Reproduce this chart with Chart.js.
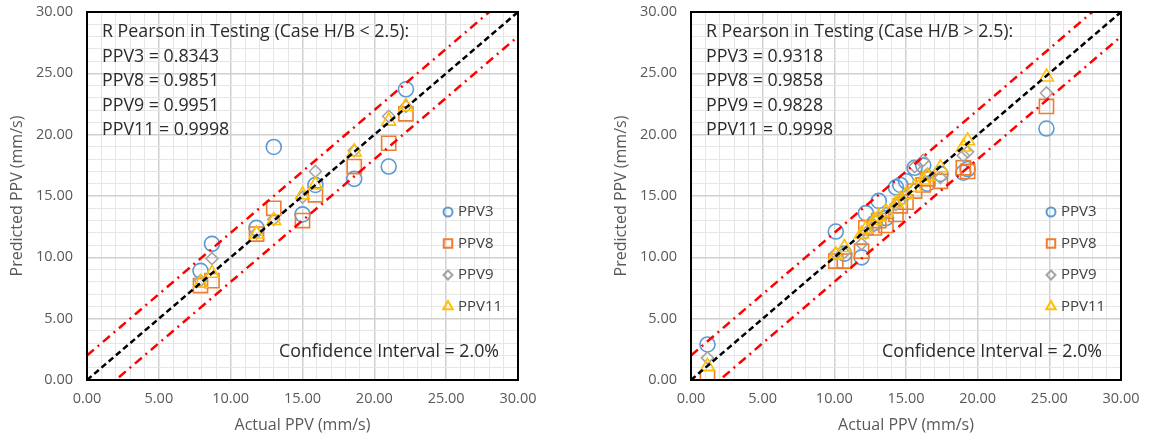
<!DOCTYPE html>
<html>
<head>
<meta charset="utf-8">
<title>PPV testing</title>
<script src="https://cdn.jsdelivr.net/npm/chart.js@4.4.0/dist/chart.umd.min.js"></script>
<style>
  body { margin: 0; background: #fff; width: 1157px; height: 445px; overflow: hidden; position: relative; }
  canvas { position: absolute; top: 0; }
</style>
</head>
<body>
<canvas id="chartLow" width="560" height="445" style="left:0"></canvas>
<canvas id="chartHigh" width="553" height="445" style="left:604px"></canvas>
<script>
const seriesNames = ["PPV3", "PPV8", "PPV9", "PPV11"];
const seriesColors = ["#5b9bd5", "#ed7d31", "#a5a5a5", "#ffc000"];
const confidence = 2.0;
const axisMin = 0;
const axisMax = 30;

// Case H/B < 2.5
const actualLow = [7.9, 8.7, 11.8, 13.0, 15.0, 15.9, 18.6, 21.0, 22.2];
const ppv3Low = [8.9, 11.1, 12.4, 19.0, 13.5, 15.9, 16.4, 17.4, 23.7];
const ppv8Low = [7.7, 8.1, 11.9, 14.0, 13.0, 15.1, 17.4, 19.3, 21.7];
const ppv9Low = [8.1, 9.9, 12.0, 13.1, 14.9, 17.0, 18.7, 21.5, 22.3];
const ppv11Low = [7.9, 8.7, 11.9, 13.0, 15.1, 15.9, 18.6, 21.1, 22.3];
const pearsonLow = [0.8343, 0.9851, 0.9951, 0.9998];

// Case H/B > 2.5
const actualHigh = [1.15, 10.1, 10.7, 11.9, 12.2, 12.8, 13.1, 13.6, 14.3, 14.6, 15.0, 15.6, 16.2, 16.5, 17.4, 19.0, 19.3, 24.8];
const ppv3High = [2.9, 12.1, 10.3, 10.0, 13.6, 12.8, 14.6, 13.2, 15.7, 15.9, 16.2, 17.3, 17.5, 16.0, 16.8, 16.9, 17.2, 20.5];
const ppv8High = [0.2, 9.7, 9.7, 10.5, 12.4, 12.4, 13.0, 12.6, 13.5, 14.2, 14.5, 15.4, 15.9, 16.4, 16.2, 17.3, 17.0, 22.3];
const ppv9High = [1.8, 10.3, 10.4, 11.1, 12.0, 12.6, 13.2, 13.6, 14.3, 14.6, 15.0, 17.4, 17.9, 16.8, 16.5, 18.3, 18.6, 23.4];
const ppv11High = [1.1, 10.2, 10.8, 11.9, 12.3, 13.0, 13.3, 13.7, 14.4, 14.7, 15.1, 15.7, 16.3, 16.6, 17.3, 19.0, 19.5, 24.7];
const pearsonHigh = [0.9318, 0.9858, 0.9828, 0.9998];

const markerStyles = ["circle", "rect", "rectRot", "triangle"];
const markerSizes = [7.5, 10, 6, 8];
const legendSizes = [4.5, 6, 4.5, 5.5];

Chart.defaults.font.family = "'Open Sans', 'Liberation Sans', sans-serif";

function pairs(xs, ys) {
  return xs.map((x, i) => ({ x: x, y: ys[i] }));
}

function buildDatasets(actual, predicted) {
  const sets = predicted.map((ys, i) => ({
    label: seriesNames[i],
    data: pairs(actual, ys),
    pointStyle: markerStyles[i],
    pointRadius: markerSizes[i],
    pointBorderWidth: 1.6,
    borderColor: seriesColors[i],
    backgroundColor: "rgba(0,0,0,0)",
    showLine: false,
    order: 4 - i
  }));
  const ends = [axisMin, axisMax];
  // 1:1 line and the +/- confidence band
  sets.push({
    label: "ideal",
    data: pairs(ends, ends),
    showLine: true, pointRadius: 0,
    borderColor: "#000", borderWidth: 2.5, borderDash: [6, 3.5],
    order: 0
  });
  sets.push({
    label: "upper",
    data: pairs(ends, ends.map(v => v + confidence)),
    showLine: true, pointRadius: 0,
    borderColor: "#ff0000", borderWidth: 2.5, borderDash: [9, 5, 2, 5],
    order: 0
  });
  sets.push({
    label: "lower",
    data: pairs(ends, ends.map(v => v - confidence)),
    showLine: true, pointRadius: 0,
    borderColor: "#ff0000", borderWidth: 2.5, borderDash: [9, 5, 2, 5],
    order: 0
  });
  return sets;
}

// frame, notes and the in-plot legend
const plotDecor = {
  id: "plotDecor",
  afterDraw(chart, args, opts) {
    const ctx = chart.ctx;
    const a = chart.chartArea;
    ctx.save();

    ctx.strokeStyle = "#000";
    ctx.lineWidth = 2;
    ctx.strokeRect(a.left, a.top, a.right - a.left, a.bottom - a.top);

    ctx.fillStyle = "#2b2b2b";
    ctx.font = "17.8px 'Open Sans'";
    ctx.textBaseline = "middle";
    ctx.textAlign = "left";
    const lines = [opts.heading].concat(opts.values.map((v, i) => seriesNames[i] + " = " + v.toFixed(4)));
    lines.forEach((t, i) => ctx.fillText(t, a.left + 15, a.top + 20 + i * 24.5));

    ctx.textAlign = "right";
    ctx.fillText("Confidence Interval = " + confidence.toFixed(1) + "%", a.right - 19, a.top + 340);

    ctx.font = "15px 'Open Sans'";
    ctx.textAlign = "left";
    seriesNames.forEach((name, i) => {
      const y = a.top + 200 + i * 31.5;
      const x = a.right - 70;
      ctx.strokeStyle = seriesColors[i];
      ctx.fillStyle = "rgba(0,0,0,0)";
      Chart.helpers.drawPoint(ctx, { pointStyle: markerStyles[i], radius: legendSizes[i], rotation: 0, borderWidth: 1.6 }, x, y);
      ctx.fillStyle = "#404040";
      ctx.fillText(name, x + 10, y);
    });
    ctx.restore();
  }
};

function axis(titleText, isX) {
  return {
    type: "linear",
    min: axisMin,
    max: axisMax,
    afterFit(scale) {
      // fixed axis band; label overhang is covered by layout padding
      if (isX) {
        scale.height = 65;
        scale.paddingLeft = 0;
        scale.paddingRight = 0;
      } else {
        scale.width = 87;
        scale.paddingTop = 0;
        scale.paddingBottom = 0;
      }
    },
    border: { display: false },
    grid: {
      drawTicks: false,
      color: c => c.tick.value % 5 === 0 ? "#d0d0d0" : "#e6e6e6",
      lineWidth: c => c.tick.value % 5 === 0 ? 1.5 : 1
    },
    ticks: {
      stepSize: 1,
      autoSkip: false,
      maxRotation: 0,
      padding: isX ? 10 : 14,
      color: "#595959",
      font: { size: 14.5 },
      callback: v => v % 5 === 0 ? v.toFixed(2) : ""
    },
    title: {
      display: true,
      text: titleText,
      color: "#595959",
      font: { size: 16 },
      padding: isX ? { top: 0, bottom: 10 } : { top: 8, bottom: 0 }
    }
  };
}

function makeChart(id, actual, predicted, heading, pearson, rightPad) {
  return new Chart(document.getElementById(id), {
    type: "scatter",
    data: { datasets: buildDatasets(actual, predicted) },
    options: {
      responsive: false,
      animation: false,
      events: [],
      layout: { autoPadding: false, padding: { top: 12, right: rightPad, left: 0, bottom: 0 } },
      scales: {
        x: axis("Actual PPV (mm/s)", true),
        y: axis("Predicted PPV (mm/s)", false)
      },
      plugins: {
        legend: { display: false },
        tooltip: { enabled: false },
        plotDecor: { heading: heading, values: pearson }
      }
    },
    plugins: [plotDecor]
  });
}

makeChart("chartLow", actualLow, [ppv3Low, ppv8Low, ppv9Low, ppv11Low],
  "R Pearson in Testing (Case H/B < 2.5):", pearsonLow, 42);
makeChart("chartHigh", actualHigh, [ppv3High, ppv8High, ppv9High, ppv11High],
  "R Pearson in Testing (Case H/B > 2.5):", pearsonHigh, 36);
</script>
</body>
</html>
